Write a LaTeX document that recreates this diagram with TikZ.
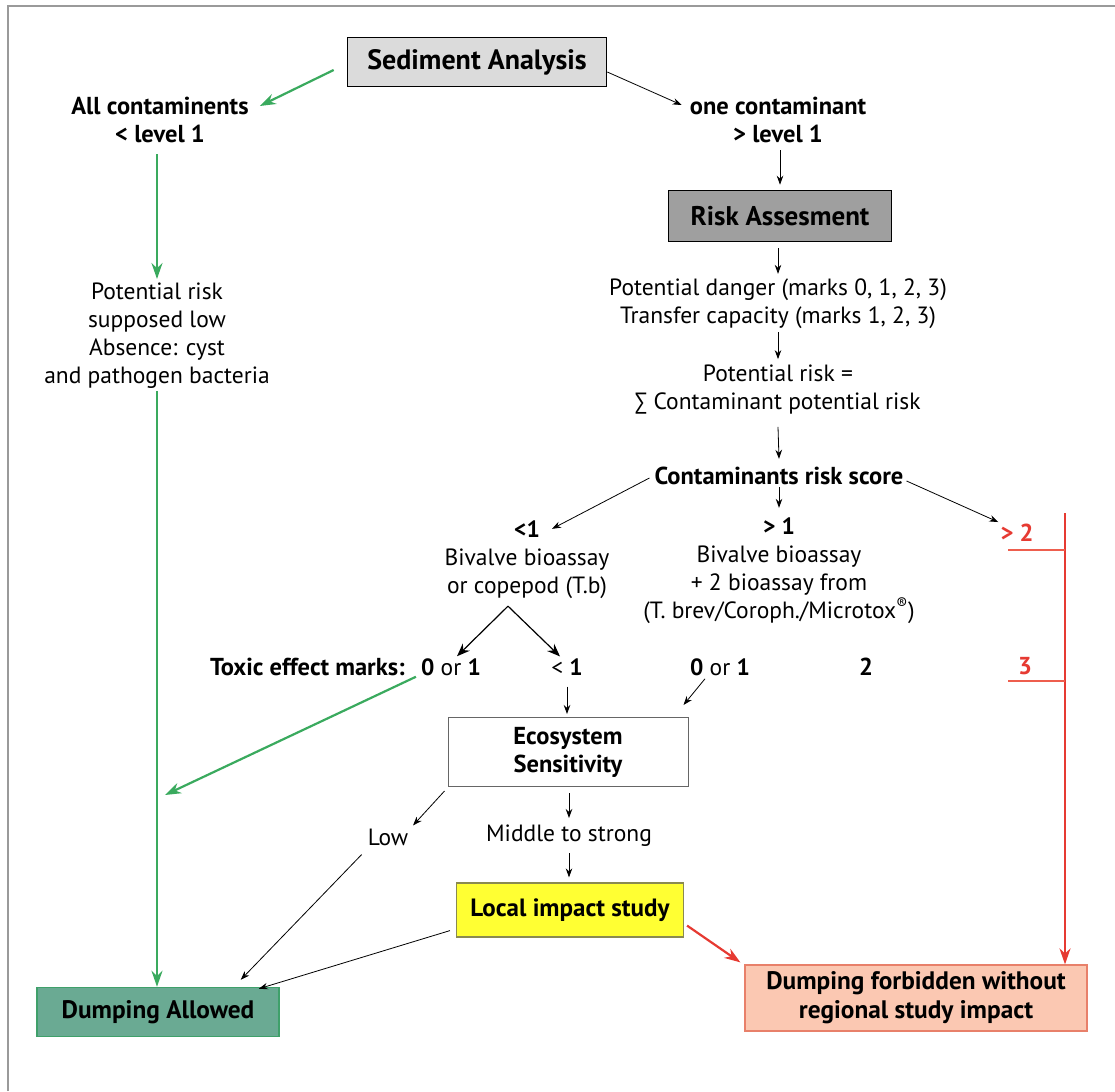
\documentclass[tikz,border=0pt]{standalone}
\usepackage{fontspec}
\setmainfont{PT Sans}
\usetikzlibrary{arrows.meta}
\definecolor{grn}{HTML}{3AAA5E}
\definecolor{rd}{HTML}{E63A32}
\definecolor{rdl}{HTML}{EE5E4E}
\definecolor{frm}{HTML}{9A9A9A}
\definecolor{daFill}{HTML}{6AAA93}
\definecolor{daEdge}{HTML}{3FA06A}
\definecolor{dfFill}{HTML}{FBC8B2}
\definecolor{dfEdge}{HTML}{E8806A}
\definecolor{yl}{HTML}{FFFF33}
\definecolor{ylEdge}{HTML}{8A8A50}
\begin{document}
\begin{tikzpicture}[x=1pt,y=-1pt,
  txt/.style={align=center,font=\fontsize{23.5}{28}\selectfont,inner sep=0pt},
  btxt/.style={txt,font=\fontsize{24.5}{28}\selectfont\bfseries},
  box/.style={draw,align=center,inner sep=0pt},
  arr/.style={-{Stealth[length=9pt,width=6.5pt]},line width=0.8pt},
  garr/.style={-{Stealth[length=16pt,width=11pt]},line width=2.2pt,draw=grn},
  rarr/.style={-{Stealth[length=16pt,width=11pt]},line width=2.2pt,draw=rd},
]
\useasboundingbox (0,0) rectangle (1115,1091);
\draw[frm,line width=2.5pt] (8,1091) -- (8,6) -- (1115,6);

% nodes
\node[box,fill=gray!28,line width=1.6pt,minimum width=259,minimum height=49,font=\fontsize{28}{30}\selectfont\bfseries] (sed) at (477,62) {Sediment Analysis};
\node[btxt] (allc) at (160,120) {All contaminents\\{<} level 1};
\node[btxt] (onec) at (778,120) {one contaminant\\{>} level 1};
\node[box,fill=gray!75,line width=1.6pt,minimum width=223,minimum height=51,font=\fontsize{27}{30}\selectfont\bfseries] (risk) at (780,216) {Risk Assesment};
\node[txt] (pd) at (778,304) {Potential danger (marks 0, 1, 2, 3)\\Transfer capacity (marks 1, 2, 3)};
\node[txt] (pr) at (778,390) {Potential risk =\\∑ Contaminant potential risk};
\node[btxt] (crs) at (779,476) {Contaminants risk score};
\node[txt] (pot) at (157,336) {Potential risk\\supposed low\\Absence: cyst\\and pathogen bacteria};
\node[txt] (lt) at (527,560) {\textbf{<1}\\Bivalve bioassay\\or copepod (T.b)};
\node[txt] (gt) at (779,571) {\textbf{> 1}\\Bivalve bioassay\\+ 2 bioassay from\\(T. brev/Coroph./Microtox\textsuperscript{®})};
\node[btxt,text=rd] (gt2) at (1017,533) {> 2};
\node[btxt,text=rd] (thr) at (1025,666) {3};
\node[btxt,anchor=east] (tem) at (405,667) {Toxic effect marks:};
\node[txt] (zoa) at (451,667) {\textbf{0} or \textbf{1}};
\node[txt] (lto) at (567,667) {< \textbf{1}};
\node[txt] (zob) at (720,667) {\textbf{0} or \textbf{1}};
\node[btxt] (two) at (866,667) {2};
\node[box,fill=white,draw=gray!80!black,line width=1pt,minimum width=240,minimum height=69,font=\fontsize{24.5}{28}\selectfont\bfseries] (eco) at (568,752) {Ecosystem\\Sensitivity};
\node[txt] (low) at (388,837) {Low};
\node[txt] (mid) at (569,836) {Middle to strong};
\node[box,fill=yl,draw=ylEdge,line width=1.2pt,minimum width=227,minimum height=54,font=\fontsize{25}{28}\selectfont\bfseries] (lis) at (570,910) {Local impact study};
\node[box,fill=daFill,draw=daEdge,line width=1.5pt,minimum width=242,minimum height=49,font=\fontsize{25.3}{28}\selectfont\bfseries] (da) at (158,1012) {Dumping Allowed};
\node[box,fill=dfFill,draw=dfEdge,line width=1.2pt,minimum width=342,minimum height=66,font=\fontsize{25.3}{29}\selectfont\bfseries] (df) at (916,998) {Dumping forbidden without\\regional study impact};

% coordinates
\coordinate (rtop) at (1065,513);
\coordinate (gmeet) at (165,795);
\coordinate (tk1) at (1008,550);
\coordinate (tk2) at (1008,681);

% connectors
\draw[garr] ([shift={(-13,8)}]sed.west) -- ([shift={(11,-14)}]allc.east);
\draw[arr] ([shift={(0,10)}]sed.east) -- ([shift={(-8,-15)}]onec.west);
\draw[arr] ([shift={(2,7)}]onec.south) -- ([shift={(0,-5)}]risk.north);
\draw[arr] ([shift={(-2,6)}]risk.south) -- ([shift={(0,-5)}]pd.north);
\draw[arr] ([shift={(0,3)}]pd.south) -- ([shift={(0,-6)}]pr.north);
\draw[arr] ([shift={(0,12)}]pr.south) -- ([shift={(0,-8)}]crs.north);
\draw[arr] ([shift={(-5,2)}]crs.west) -- ([shift={(25,8)}]lt.north);
\draw[arr,line width=1pt] ([shift={(0,2)}]crs.south) -- ([shift={(0,-10)}]gt.north);
\draw[arr] ([shift={(3,5)}]crs.east) -- ([shift={(-2,-2)}]gt2.north west);
\draw[-{Stealth[length=13pt,width=10pt]},line width=1.2pt] ([shift={(-19,7)}]lt.south) -- ([shift={(6,-2)}]zoa.north);
\draw[-{Stealth[length=13pt,width=10pt]},line width=1.2pt] ([shift={(-19,7)}]lt.south) -- ([shift={(-7,-2)}]lto.north);
\draw[garr] ([shift={(-5,1)}]zoa.south west) -- (gmeet);
\draw[arr] ([shift={(0,11)}]lto.south) -- ([shift={(0,-3)}]eco.north -| lto);
\draw[arr] ([shift={(-15,3)}]zob.south) -- ([shift={(-5,-12)}]eco.north east);
\draw[arr] ([shift={(-3,4)}]eco.south west) -- ([shift={(25,-3)}]low.north);
\draw[arr] ([shift={(0,6)}]eco.south -| mid) -- ([shift={(0,-7)}]mid.north);
\draw[arr] ([shift={(0,6)}]mid.south) -- ([shift={(0,-5)}]lis.north -| mid);
\draw[arr] ([shift={(-6,9)}]low.south west) -- ([shift={(-39,-7)}]da.north east);
\draw[arr] ([shift={(-6,-7)}]lis.south west) -- ([shift={(-21,2)}]da.north east);
\draw[rarr] ([shift={(3,-12)}]lis.south east) -- ([shift={(-4,-2)}]df.north west);
\draw[garr] ([shift={(0,11)}]allc.south -| pot) -- ([shift={(0,-4)}]pot.north);
\draw[garr] ([shift={(0,2)}]pot.south) -- (da.north -| pot);
\draw[rarr] (rtop) -- (rtop |- df.north);
\draw[rdl,line width=1.5pt] (tk1) -- (tk1 -| rtop);
\draw[rdl,line width=1.5pt] (tk2) -- (tk2 -| rtop);
\end{tikzpicture}
\end{document}
